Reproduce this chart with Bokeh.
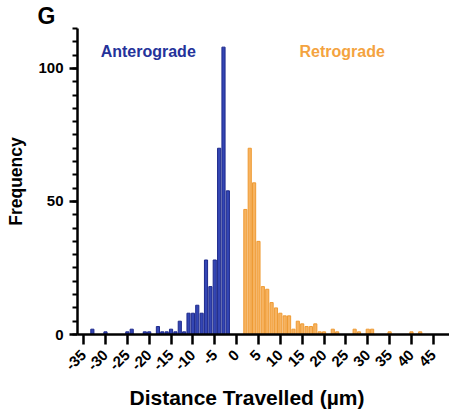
import math
from bokeh.plotting import figure
from bokeh.models import Range1d, Label, FixedTicker, Title
from bokeh.embed import file_html
from bokeh.resources import INLINE

# Anterograde (negative distances), 1 µm bins
antero_x = [-33, -30, -25, -24, -21, -20, -18, -17, -16, -15, -14, -13, -12,
            -11, -10, -9, -8, -7, -6, -5, -4, -3, -2]
antero_y = [2, 1, 1, 2, 1, 1, 3, 1, 1, 2, 1, 5, 1,
            8, 8, 11, 8, 28, 18, 28, 70, 108, 54]

# Retrograde (positive distances), 1 µm bins
retro_x = [2, 3, 4, 5, 6, 7, 8, 9, 10, 11, 12, 13, 14, 15, 16, 17, 18,
           19, 20, 22, 23, 27, 28, 30, 31, 35, 40, 42]
retro_y = [47, 70, 57, 35, 18, 17, 12, 10, 8, 7, 7, 2, 5, 4, 3, 3, 4,
           1, 1, 2, 1, 2, 1, 2, 2, 1, 1, 1]

x_ticks = [-35, -30, -25, -20, -15, -10, -5, 0, 5, 10, 15, 20, 25, 30, 35, 40, 45]
x_tick_labels = ["-35", "-30", "-25", "-20", "-15", "-10", "-5", "0", "5", "10",
                 "15", "20", "25", "30", "35", "40", "45"]
y_ticks = [0, 50, 100]
y_minor = list(range(0, 121, 5))

FONT = "Liberation Sans"
BLUE_FILL = "#3446B4"
BLUE_LINE = "#1E2A8C"
ORANGE_FILL = "#F7B360"
ORANGE_LINE = "#EE9A33"

p = figure(width=449, height=415, output_backend="svg", toolbar_location=None,
           x_range=Range1d(-36.4, 48.7), y_range=Range1d(0, 115),
           min_border_left=77, min_border_right=0, min_border_top=17,
           min_border_bottom=81)
p.outline_line_color = None
p.xgrid.visible = False
p.ygrid.visible = False

p.vbar(x=antero_x, top=antero_y, bottom=0, width=0.72,
       fill_color=BLUE_FILL, line_color=BLUE_LINE, line_width=1)
p.vbar(x=retro_x, top=retro_y, bottom=0, width=0.72,
       fill_color=ORANGE_FILL, line_color=ORANGE_LINE, line_width=1)

xa = p.xaxis[0]
xa.ticker = FixedTicker(ticks=x_ticks, minor_ticks=[])
xa.major_label_overrides = {t: s for t, s in zip(x_ticks, x_tick_labels)}
xa.axis_line_width = 2.5
xa.axis_line_color = "black"
xa.major_tick_line_width = 2.5
xa.major_tick_out = 10
xa.major_tick_in = 0
xa.major_label_orientation = math.pi / 4
xa.major_label_text_font = FONT
xa.major_label_text_font_style = "bold"
xa.major_label_text_font_size = "15px"
xa.major_label_text_color = "black"
xa.major_label_standoff = 8

ya = p.yaxis[0]
ya.ticker = FixedTicker(ticks=y_ticks, minor_ticks=y_minor)
ya.axis_line_width = 2.5
ya.axis_line_color = "black"
ya.major_tick_line_width = 2.5
ya.major_tick_out = 8
ya.major_tick_in = 0
ya.minor_tick_line_width = 2
ya.minor_tick_out = 5
ya.minor_tick_in = 0
ya.major_label_text_font = FONT
ya.major_label_text_font_style = "bold"
ya.major_label_text_font_size = "15px"
ya.major_label_text_color = "black"
ya.major_label_standoff = 6
ya.axis_label = "Frequency"
ya.axis_label_text_font = FONT
ya.axis_label_text_font_style = "bold"
ya.axis_label_text_font_size = "17.5px"
ya.axis_label_text_color = "black"
ya.axis_label_standoff = 9

# x-axis title as a Title in the bottom panel (placed left-aligned with offset)
p.add_layout(Title(text="Distance Travelled (µm)", align="left", offset=52,
                   standoff=13, text_font=FONT, text_font_style="bold",
                   text_font_size="21px", text_color="black"), "below")
# panel letter
p.add_layout(Title(text="G", align="left", offset=-40, standoff=0,
                   text_font=FONT, text_font_style="bold",
                   text_font_size="23px", text_color="black"), "above")

p.add_layout(Label(x=-31.1, y=106.2, text="Anterograde", text_align="left",
                   text_baseline="alphabetic", text_font=FONT,
                   text_font_style="bold", text_font_size="16px",
                   text_color="#24329A"))
p.add_layout(Label(x=14.4, y=106.2, text="Retrograde", text_align="left",
                   text_baseline="alphabetic", text_font=FONT,
                   text_font_style="bold", text_font_size="16px",
                   text_color="#F4A340"))

open("out.html", "w").write(file_html(p, INLINE))
